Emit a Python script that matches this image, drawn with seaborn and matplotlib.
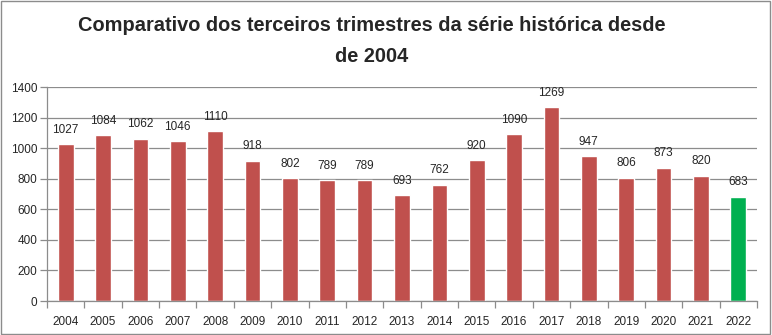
import matplotlib
matplotlib.use("Agg")
import matplotlib.pyplot as plt
import seaborn as sns
import pandas as pd
import numpy as np
from matplotlib.patches import Rectangle

years = ["2004", "2005", "2006", "2007", "2008", "2009", "2010", "2011", "2012", "2013",
         "2014", "2015", "2016", "2017", "2018", "2019", "2020", "2021", "2022"]
values = [1027, 1084, 1062, 1046, 1110, 918, 802, 789, 789, 693,
          762, 920, 1090, 1269, 947, 806, 873, 820, 683]
groups = ["past"] * 18 + ["current"]
title = "Comparativo dos terceiros trimestres da série histórica desde\nde 2004"

sns.set_theme(style="white")
plt.rcParams['font.family'] = ['Liberation Sans', 'DejaVu Sans']

df = pd.DataFrame({"year": years, "value": values, "group": groups})

fig = plt.figure(figsize=(7.72, 3.35), dpi=100)
ax = fig.add_axes([47/772, 1-301/335, (757-47)/772, (301-87)/335])

sns.barplot(data=df, x="year", y="value", hue="group",
            palette={"past": "#C0504D", "current": "#00B050"},
            dodge=False, width=0.42, legend=False, ax=ax, saturation=1)

ax.set_ylim(0, 1400)
ax.set_yticks(np.arange(0, 1401, 200))
ax.set_xlim(-0.5, len(years) - 0.5)
ax.yaxis.grid(True, color="#8c8c8c", linewidth=0.9)
ax.set_axisbelow(True)
ax.set_xlabel("")
ax.set_ylabel("")
for s in ["top", "right"]:
    ax.spines[s].set_visible(False)
for s in ["left", "bottom"]:
    ax.spines[s].set_color("#8c8c8c")
    ax.spines[s].set_linewidth(0.9)

ax.set_xticks(np.arange(len(years)))
ax.set_xticklabels(years, fontsize=8.5)
ax.tick_params(axis="x", which="major", length=0, pad=11)
ax.set_xticks(np.arange(-0.5, len(years), 1), minor=True)
ax.tick_params(axis="x", which="minor", length=5, color="#8c8c8c", width=0.9, bottom=True)
ax.tick_params(axis="y", length=5, color="#8c8c8c", width=0.9, left=True, labelsize=8.5, pad=2)

for i, v in enumerate(values):
    ax.annotate(str(v), (i, v), xytext=(0, 6), textcoords="offset points",
                ha="center", va="bottom", fontsize=8.5)

fig.text(372/772, 1 - 41/335, title, ha="center", va="center", fontsize=14.4,
         fontweight="bold", linespacing=1.75)

fig.patches.append(Rectangle((0.001, 0.002), 0.997, 0.995, transform=fig.transFigure,
                             fill=False, edgecolor="#8c8c8c", linewidth=1))

fig.savefig("out.png", dpi=100)
